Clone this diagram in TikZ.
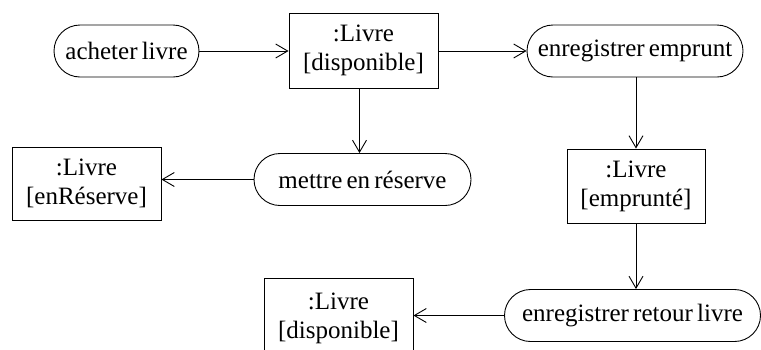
\documentclass[tikz,border=0pt]{standalone}
\usepackage{fontspec}
\setmainfont{Liberation Serif}
\usetikzlibrary{arrows.meta}
\newcommand{\diagfont}{\fontsize{25}{29}\selectfont\spaceskip=4.2pt\relax}
\begin{document}
\begin{tikzpicture}[x=1pt,y=-1pt,
  every node/.style={font=\diagfont, inner sep=0pt, line width=0.9pt},
  act/.style={draw, rounded corners=26pt, minimum height=52pt},
  obj/.style={draw, align=center},
  flow/.style={line width=0.9pt, -{Straight Barb[length=12pt,width=14pt,line width=0.9pt]}}]
\useasboundingbox (0,0) rectangle (761,349);
\clip (0,0) rectangle (761,349);
\node[act, minimum width=145pt] (A) at (126.5,51) {acheter livre};
\node[obj, minimum width=149pt, minimum height=75pt] (B) at (363.5,50.5) {:Livre\\{[disponible]}};
\node[act, minimum width=216pt] (C) at (635,51) {enregistrer emprunt};
\node[act, minimum width=217pt] (D) at (362.5,179.5) {mettre en réserve};
\node[obj, minimum width=149pt, minimum height=73pt] (E) at (86.5,183.5) {:Livre\\{[enRéserve]}};
\node[obj, minimum width=138pt, minimum height=74pt] (F) at (636,186) {:Livre\\{[emprunté]}};
\node[act, minimum width=256pt] (G) at (632.5,315.5) {enregistrer retour livre};
\node[obj, minimum width=149pt, minimum height=80pt] (H) at (338.5,318) {:Livre\\{[disponible]}};
\draw[flow] (A.east) -- (B.west |- A.east);
\draw[flow] (B.east |- C.west) -- (C.west);
\draw[flow] ([xshift=-4pt]B.south) -- ([xshift=-4pt]B.south |- D.north);
\draw[flow] (D.west) -- (E.east |- D.west);
\draw[flow] (C.south -| F.north) -- (F.north);
\draw[flow] (F.south) -- (F.south |- G.north);
\draw[flow] (G.west) -- (H.east |- G.west);
\end{tikzpicture}
\end{document}
